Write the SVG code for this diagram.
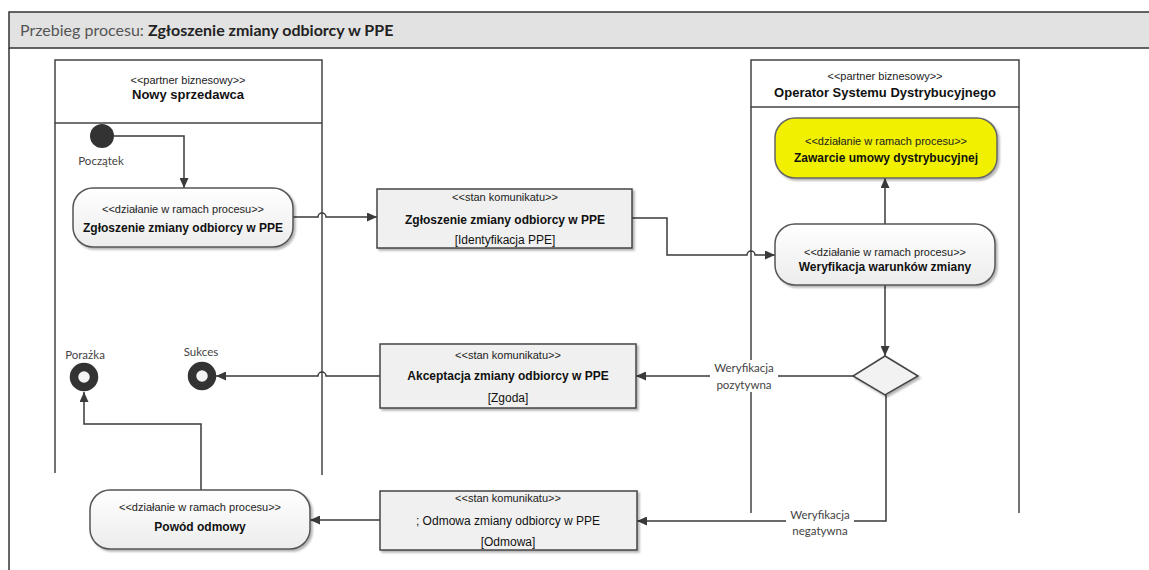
<svg xmlns="http://www.w3.org/2000/svg" width="1149" height="570" viewBox="0 0 1149 570">
<defs>
<marker id="arr" markerUnits="userSpaceOnUse" markerWidth="10" markerHeight="9" refX="10" refY="4.5" orient="auto">
<path d="M0,0 L10,4.5 L0,9 Z" fill="#3a3a3a"/>
</marker>
<linearGradient id="act" x1="0" y1="0" x2="0" y2="1">
<stop offset="0" stop-color="#ffffff"/>
<stop offset="1" stop-color="#ececec"/>
</linearGradient>
<filter id="sh" x="-10%" y="-10%" width="125%" height="135%">
<feGaussianBlur in="SourceAlpha" stdDeviation="1.2"/>
<feOffset dx="2" dy="2" result="b"/>
<feComponentTransfer><feFuncA type="linear" slope="0.3"/></feComponentTransfer>
<feMerge><feMergeNode/><feMergeNode in="SourceGraphic"/></feMerge>
</filter>
</defs>
<style>
.lane{fill:none;stroke:#444;stroke-width:1.5}
.act{fill:url(#act);stroke:#555;stroke-width:1.5}
.msg{fill:#f0f0f0;stroke:#444;stroke-width:1.5}
.st{font-family:"Liberation Sans",Arial,sans-serif;font-size:11px;fill:#222;text-anchor:middle}
.nm{font-family:"Liberation Sans",Arial,sans-serif;font-size:12px;font-weight:bold;fill:#111;text-anchor:middle}
.rg{font-family:"Liberation Sans",Arial,sans-serif;font-size:12px;fill:#111;text-anchor:middle}
.ln{font-family:"Liberation Sans",Arial,sans-serif;font-size:13px;font-weight:bold;fill:#111;text-anchor:middle}
.lb{font-family:Lato,"Open Sans",sans-serif;font-size:11.5px;fill:#444;text-anchor:middle}
.cn{fill:none;stroke:#3a3a3a;stroke-width:1.5}
.fin{fill:#f4f4f4;stroke:#333;stroke-width:8.5}
</style>
<rect x="0" y="0" width="1149" height="570" fill="#ffffff"/>
<g id="frame">
<rect x="9" y="12" width="1150" height="36" fill="#e2e2e2" stroke="#333" stroke-width="1.5"/>
<line x1="9" y1="48" x2="9" y2="570" stroke="#333" stroke-width="1.5"/>
<text x="20" y="36" font-family="Lato,'Open Sans',sans-serif" font-size="16" fill="#555">Przebieg procesu: <tspan font-weight="bold" fill="#222">Zgłoszenie zmiany odbiorcy w PPE</tspan></text>
</g>
<g id="lane-nowy-sprzedawca">
<rect class="lane" x="55" y="60" width="267" height="63"/>
<line class="lane" x1="55" y1="123" x2="55" y2="473"/>
<line class="lane" x1="322" y1="123" x2="322" y2="475"/>
<text class="st" x="188" y="84">&lt;&lt;partner biznesowy&gt;&gt;</text>
<text class="ln" x="188" y="99">Nowy sprzedawca</text>
</g>
<g id="lane-osd">
<rect class="lane" x="751" y="60" width="268" height="47"/>
<line class="lane" x1="751" y1="107" x2="751" y2="513"/>
<line class="lane" x1="1019" y1="107" x2="1019" y2="513"/>
<text class="st" x="885" y="80">&lt;&lt;partner biznesowy&gt;&gt;</text>
<text class="ln" x="885" y="97">Operator Systemu Dystrybucyjnego</text>
</g>
<g id="connectors">
<path class="cn" d="M114,136 H184 V188" marker-end="url(#arr)"/>
<path class="cn" d="M293,217 H318 a4,4 0 0 1 8,0 H377" marker-end="url(#arr)"/>
<path class="cn" d="M632,218 H667 V255 H747 a4,4 0 0 1 8,0 H775" marker-end="url(#arr)"/>
<path class="cn" d="M885,224 V178" marker-end="url(#arr)"/>
<path class="cn" d="M885,285 V356" marker-end="url(#arr)"/>
<path class="cn" d="M853,376 H636" marker-end="url(#arr)"/>
<path class="cn" d="M380,376 H326 a4,4 0 0 0 -8,0 H216" marker-end="url(#arr)"/>
<path class="cn" d="M886,395 V521 H637" marker-end="url(#arr)"/>
<path class="cn" d="M380,520 H310" marker-end="url(#arr)"/>
<path class="cn" d="M201,490 V424 H84 V392" marker-end="url(#arr)"/>
<g id="label-pozytywna">
<rect x="710" y="360" width="68" height="32" fill="#ffffff"/>
<text class="lb" x="744" y="372">Weryfikacja</text>
<text class="lb" x="744" y="389">pozytywna</text>
</g>
<g id="label-negatywna">
<rect x="786" y="508" width="68" height="30" fill="#ffffff"/>
<text class="lb" x="820" y="519">Weryfikacja</text>
<text class="lb" x="820" y="535">negatywna</text>
</g>
</g>
<g id="start">
<circle cx="102" cy="136" r="12" fill="#333"/>
<text class="lb" x="101" y="165">Początek</text>
</g>
<g id="act-zgloszenie">
<rect class="act" x="73" y="188" width="220" height="59" rx="20" filter="url(#sh)"/>
<text class="st" x="183" y="213" font-size="11.5">&lt;&lt;działanie w ramach procesu&gt;&gt;</text>
<text class="nm" x="183" y="232">Zgłoszenie zmiany odbiorcy w PPE</text>
</g>
<g id="msg-zgloszenie">
<rect class="msg" x="377" y="189" width="255" height="59" filter="url(#sh)"/>
<text class="st" x="505" y="201">&lt;&lt;stan komunikatu&gt;&gt;</text>
<text class="nm" x="505" y="224">Zgłoszenie zmiany odbiorcy w PPE</text>
<text class="rg" x="505" y="244">[Identyfikacja PPE]</text>
</g>
<g id="act-zawarcie">
<rect x="775" y="118" width="222" height="60" rx="20" fill="#f0f000" stroke="#666" stroke-width="1.5" filter="url(#sh)"/>
<text class="st" x="886" y="145">&lt;&lt;działanie w ramach procesu&gt;&gt;</text>
<text class="nm" x="886" y="162" font-size="11.5">Zawarcie umowy dystrybucyjnej</text>
</g>
<g id="act-weryfikacja">
<rect class="act" x="775" y="224" width="220" height="61" rx="20" filter="url(#sh)"/>
<text class="st" x="885" y="256">&lt;&lt;działanie w ramach procesu&gt;&gt;</text>
<text class="nm" x="885" y="271">Weryfikacja warunków zmiany</text>
</g>
<g id="decision">
<polygon points="885,356 918,376 885,395 853,376" fill="#f2f2f2" stroke="#444" stroke-width="1.5" filter="url(#sh)"/>
</g>
<g id="msg-akceptacja">
<rect class="msg" x="380" y="344" width="256" height="64" filter="url(#sh)"/>
<text class="st" x="508" y="359">&lt;&lt;stan komunikatu&gt;&gt;</text>
<text class="nm" x="508" y="380">Akceptacja zmiany odbiorcy w PPE</text>
<text class="rg" x="508" y="402">[Zgoda]</text>
</g>
<g id="end-sukces">
<circle class="fin" cx="202" cy="376" r="10"/>
<text class="lb" x="201" y="356">Sukces</text>
</g>
<g id="end-porazka">
<circle class="fin" cx="84" cy="377" r="10"/>
<text class="lb" x="85" y="359">Porażka</text>
</g>
<g id="msg-odmowa">
<rect class="msg" x="380" y="491" width="257" height="59" filter="url(#sh)"/>
<text class="st" x="508" y="502">&lt;&lt;stan komunikatu&gt;&gt;</text>
<text class="rg" x="508" y="525">; Odmowa zmiany odbiorcy w PPE</text>
<text class="rg" x="508" y="546">[Odmowa]</text>
</g>
<g id="act-powod">
<rect class="act" x="90" y="490" width="220" height="59" rx="20" filter="url(#sh)"/>
<text class="st" x="200" y="511">&lt;&lt;działanie w ramach procesu&gt;&gt;</text>
<text class="nm" x="200" y="531">Powód odmowy</text>
</g>
</svg>
